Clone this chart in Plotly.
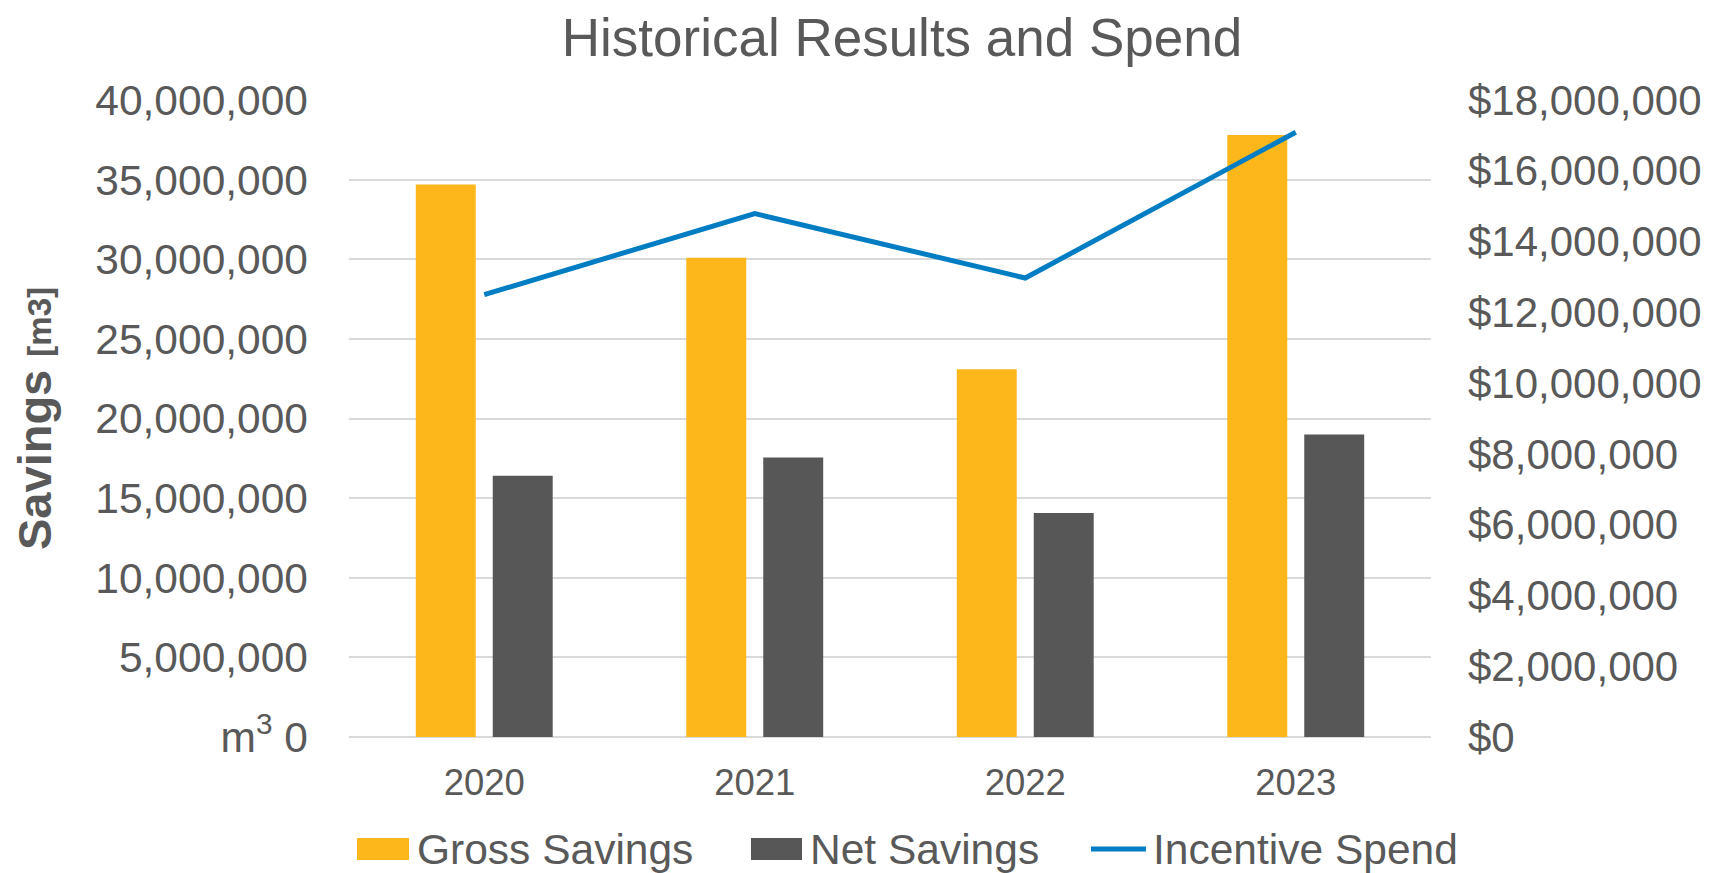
import plotly.graph_objects as go

years = ["2020", "2021", "2022", "2023"]
gross_savings = [34700000, 30100000, 23100000, 37800000]
net_savings = [16400000, 17550000, 14070000, 19000000]
incentive_spend = [12500000, 14790000, 12970000, 17090000]

left_tickvals = [0, 5e6, 10e6, 15e6, 20e6, 25e6, 30e6, 35e6, 40e6]
left_ticktext = ["m<sup>3</sup> 0", "5,000,000", "10,000,000", "15,000,000", "20,000,000",
                 "25,000,000", "30,000,000", "35,000,000", "40,000,000"]
right_tickvals = [0, 2e6, 4e6, 6e6, 8e6, 10e6, 12e6, 14e6, 16e6, 18e6]
right_ticktext = ["$0", "$2,000,000", "$4,000,000", "$6,000,000", "$8,000,000", "$10,000,000",
                  "$12,000,000", "$14,000,000", "$16,000,000", "$18,000,000"]

series_names = ["Gross Savings", "Net Savings", "Incentive Spend"]
series_colors = ["#FDB71A", "#575757", "#007DC3"]

TXT = "#595959"
FONT = "Liberation Sans, Arial, sans-serif"

W, H = 1711, 873
ML, MR, MT, MB = 341, 288, 92, 144
PW, PH = W - ML - MR, H - MT - MB

fig = go.Figure()
fig.add_trace(go.Bar(x=years, y=gross_savings, name=series_names[0],
                     marker=dict(color=series_colors[0], line=dict(width=0))))
fig.add_trace(go.Bar(x=years, y=net_savings, name=series_names[1],
                     marker=dict(color=series_colors[1], line=dict(width=0))))
fig.add_trace(go.Scatter(x=years, y=incentive_spend, name=series_names[2], yaxis="y2",
                         mode="lines", line=dict(color=series_colors[2], width=5)))


def px_x(fx):
    return (fx - ML) / PW


def px_y(fy):
    return (H - MB - fy) / PH


# custom legend (figure pixel layout -> paper coords)
leg_y = 841
leg_items = [  # (swatch left, swatch right, text left, kind)
    (349, 401, 407, "rect"),
    (743, 794, 800, "rect"),
    (1083, 1138, 1143, "line"),
]
shapes = []
annotations = []
for (sl, sr, tl, kind), name, col in zip(leg_items, series_names, series_colors):
    if kind == "rect":
        shapes.append(dict(type="rect", xref="paper", yref="paper",
                           x0=px_x(sl), x1=px_x(sr), y0=px_y(leg_y + 11), y1=px_y(leg_y - 11),
                           fillcolor=col, line=dict(width=0)))
    else:
        shapes.append(dict(type="line", xref="paper", yref="paper",
                           x0=px_x(sl), x1=px_x(sr), y0=px_y(leg_y), y1=px_y(leg_y),
                           line=dict(color=col, width=5)))
    annotations.append(dict(text=name, xref="paper", yref="paper", x=px_x(tl), y=px_y(leg_y),
                            xanchor="left", yanchor="middle", showarrow=False,
                            font=dict(size=42.5, color=TXT)))

fig.update_layout(
    width=W, height=H,
    paper_bgcolor="white", plot_bgcolor="white",
    margin=dict(l=ML, r=MR, t=MT, b=MB, autoexpand=False),
    font=dict(family=FONT, color=TXT),
    title=dict(text="Historical Results and Spend", x=0.5225, xanchor="center",
               y=0.9665, yanchor="middle", font=dict(size=53, color=TXT)),
    barmode="group", bargap=0.431, bargroupgap=0.221,
    xaxis=dict(type="category", showgrid=False, showline=False, zeroline=False,
               tickfont=dict(size=36.5, color=TXT), ticks="", ticklabelstandoff=20),
    yaxis=dict(range=[0, 40e6], tickvals=left_tickvals, ticktext=left_ticktext,
               tickfont=dict(size=42.5, color=TXT), showgrid=True, gridcolor="#D9D9D9",
               gridwidth=1.5, zeroline=True, zerolinecolor="#D9D9D9", zerolinewidth=1.5,
               showline=False, ticks="", ticklabelstandoff=40,
               title=dict(text="<b>Savings <span style='font-size:33px'>[m3]</span></b>",
                          font=dict(size=47, color=TXT), standoff=30)),
    yaxis2=dict(range=[0, 18e6], overlaying="y", side="right", tickvals=right_tickvals,
                ticktext=right_ticktext, tickfont=dict(size=42, color=TXT),
                showgrid=False, zeroline=False, showline=False, ticks="", ticklabelstandoff=36),
    showlegend=False,
    shapes=shapes,
    annotations=annotations,
)

fig.write_html("out.html")
